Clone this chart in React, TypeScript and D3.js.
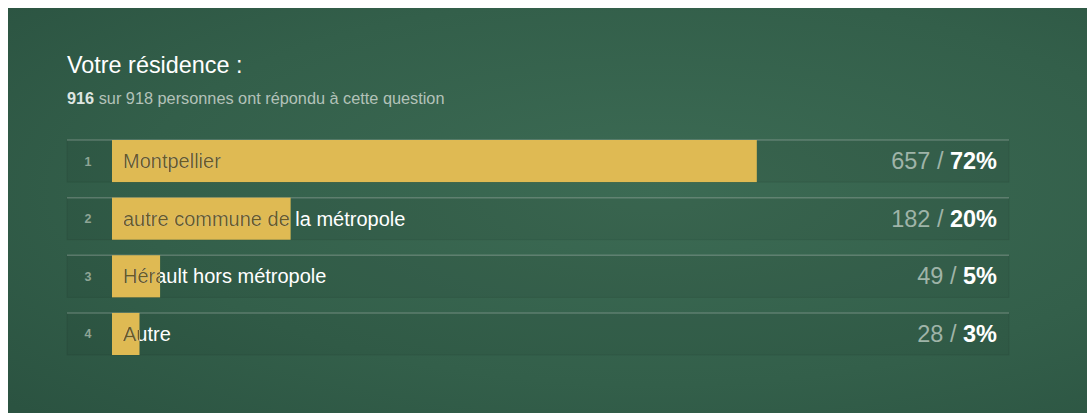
import React from "react";
import * as d3 from "d3";

const categories = ["Montpellier", "autre commune de la métropole", "Hérault hors métropole", "Autre"];
const counts = [657, 182, 49, 28];
const percents = ["72%", "20%", "5%", "3%"];
const answered = 916;
const total = 918;

const W = 1087;
const H = 413;
const FONT = "'Liberation Sans', Arial, Helvetica, sans-serif";

export default function App() {
  const x = d3.scaleLinear().domain([0, answered]).range([112, 1011]);
  const y = d3
    .scaleBand<number>()
    .domain(d3.range(categories.length))
    .range([140, 355])
    .paddingInner(0.27)
    .paddingOuter(0);
  const bh = y.bandwidth();

  return (
    <svg
      width={W}
      height={H}
      style={{ position: "absolute", left: 0, top: 0, display: "block" }}
    >
      <defs>
        <radialGradient id="bg" cx="0.6" cy="0.45" r="0.8">
          <stop offset="0%" stopColor="#3c6b54" />
          <stop offset="60%" stopColor="#335f4a" />
          <stop offset="100%" stopColor="#2b5341" />
        </radialGradient>
        {categories.map((c, i) => (
          <clipPath id={`clip${i}`} key={c}>
            <rect x={x(0)} y={y(i)} width={x(counts[i]) - x(0)} height={bh} />
          </clipPath>
        ))}
      </defs>
      <rect x={0} y={0} width={W} height={H} fill="#ffffff" />
      <rect x={8} y={8} width={W - 8} height={H - 8} fill="url(#bg)" />
      <text x={67} y={73} fontFamily={FONT} fontSize={23.4} fill="#ffffff">
        Votre résidence :
      </text>
      <text x={67} y={104} fontFamily={FONT} fontSize={16.3} fill="#b3c2b9">
        <tspan fontWeight="bold" fill="#dfe6e2">{answered}</tspan>
        <tspan> sur {total} personnes ont répondu à cette question</tspan>
      </text>
      {categories.map((c, i) => {
        const yy = y(i) as number;
        const cy = yy + bh / 2;
        return (
          <g key={c}>
            <rect
              x={67}
              y={yy}
              width={942}
              height={bh}
              fill="rgba(0,0,0,0.05)"
              stroke="rgba(0,0,0,0.08)"
            />
            <line x1={67} x2={1009} y1={yy} y2={yy} stroke="rgba(255,255,255,0.22)" strokeWidth={1.5} />
            <text
              x={88}
              y={cy + 4.5}
              textAnchor="middle"
              fontFamily={FONT}
              fontSize={12.5}
              fontWeight="bold"
              fill="#8ea596"
            >
              {i + 1}
            </text>
            <rect x={x(0)} y={yy} width={x(counts[i]) - x(0)} height={bh} fill="#dfba53" />
            <text x={123} y={cy + 7} fontFamily={FONT} fontSize={20} fill="#ffffff">
              {c}
            </text>
            <text
              x={123}
              y={cy + 7}
              fontFamily={FONT}
              fontSize={20}
              fill="#6b5a22"
              clipPath={`url(#clip${i})`}
            >
              {c}
            </text>
            <text x={997} y={cy + 8} textAnchor="end" fontFamily={FONT} fontSize={23.5}>
              <tspan fill="#9fb4a8">{counts[i]} / </tspan>
              <tspan fill="#ffffff" fontWeight="bold">{percents[i]}</tspan>
            </text>
          </g>
        );
      })}
    </svg>
  );
}
